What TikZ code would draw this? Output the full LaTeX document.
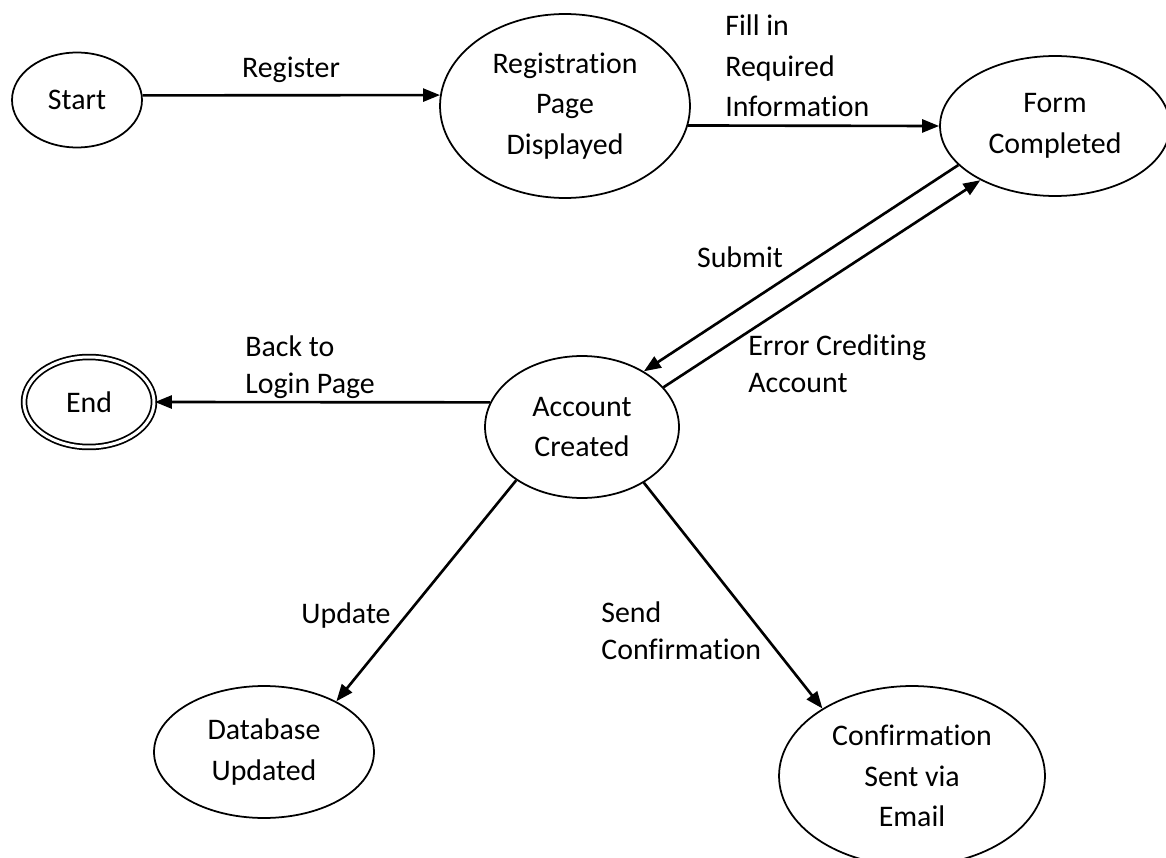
\documentclass[tikz,border=0pt]{standalone}
\usepackage{fontspec}
\setmainfont{Carlito}[Ligatures=NoCommon]
\usetikzlibrary{shapes.geometric,arrows.meta,positioning}

\begin{document}
\begin{tikzpicture}[x=0.02cm, y=-0.02cm,
    statenode/.style={ellipse, draw, line width=1pt, inner sep=0pt, align=center,
        font=\fontsize{17}{23}\selectfont},
    endnode/.style={statenode, double, double distance=1.7pt},
    arrline/.style={line width=1.5pt, -{Triangle[length=0.34cm, width=0.26cm]}},
    lbl/.style={inner sep=0pt, align=left, font=\fontsize{17}{21}\selectfont}
]
    \useasboundingbox (0,0) rectangle (1166,858);

    % States
    \node[statenode, minimum width=2.6cm, minimum height=1.9cm] (start) at (77,100) {Start};
    \node[statenode, minimum width=5cm, minimum height=3.68cm] (reg) at (565,106) {Registration\\Page\\Displayed};
    \node[statenode, minimum width=4.6cm, minimum height=2.8cm] (form) at (1055,126) {Form\\Completed};
    \node[statenode, minimum width=3.88cm, minimum height=2.84cm] (acc) at (582,427) {Account\\Created};
    \node[endnode, minimum width=2.6cm, minimum height=1.8cm] (end) at (89,402) {End};
    \node[statenode, minimum width=4.4cm, minimum height=2.64cm] (db) at (264,752) {Database\\Updated};
    \node[statenode, minimum width=5.32cm, minimum height=3.6cm] (conf) at (912,776) {Confirmation\\Sent via\\Email};

    % Transitions
    \draw[arrline] (start.4) -- (reg.175);
    \draw[arrline] (reg.-9) -- (form.west);
    \draw[arrline] (form.202) -- (acc.42);
    \draw[arrline] (acc.26) -- (form.216);
    \draw[arrline] (acc.165) -- (end.east);
    \draw[arrline] (acc.219) -- (db.35);
    \draw[arrline] (acc.-42) -- (conf.143);

    % Labels
    \node[lbl, anchor=base] (lregister) at (291,78) {Register};
    \node[lbl, anchor=west, font=\fontsize{17}{23}\selectfont] (lfill) at (725,66) {Fill in\\Required\\Information};
    \node[lbl, anchor=base] (lsubmit) at (740,268) {Submit};
    \node[lbl, anchor=west] (lerror) at (748,364) {Error Crediting\\Account};
    \node[lbl, anchor=west] (lback) at (245,367) {Back to\\Login Page};
    \node[lbl, anchor=base] (lupdate) at (346,623) {Update};
    \node[lbl, anchor=west] (lsend) at (601,631) {Send\\Confirmation};
\end{tikzpicture}
\end{document}
